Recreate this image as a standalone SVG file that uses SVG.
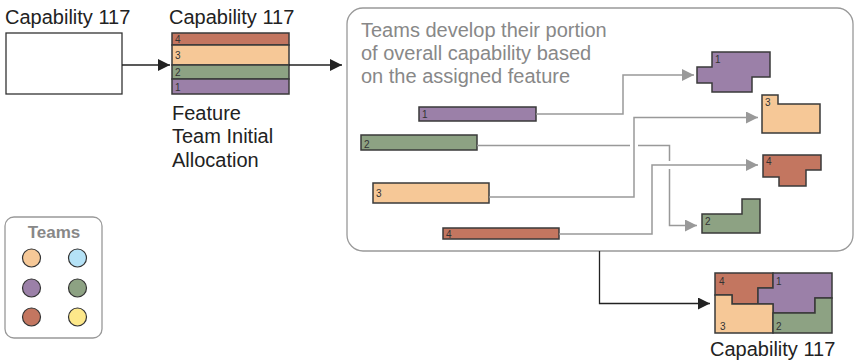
<svg xmlns="http://www.w3.org/2000/svg" width="854" height="360" viewBox="0 0 854 360">
<style>
.t{font-family:"Liberation Sans",Arial,sans-serif;font-size:20px;fill:#222}
.g{font-family:"Liberation Sans",Arial,sans-serif;font-size:20px;fill:#888}
.n{font-family:"Liberation Sans",Arial,sans-serif;font-size:10px;fill:#333}
.pc{stroke:#3a3a3a;stroke-width:1.5}
.p1{fill:#9b80a8}.p2{fill:#8da283}.p3{fill:#f6c897}.p4{fill:#c37660}
.gc{fill:none;stroke:#999;stroke-width:1.5}
.bc{fill:none;stroke:#222;stroke-width:1.3}
.leg{stroke:#333;stroke-width:1.2}
</style>
<defs>
<marker id="ag" markerUnits="userSpaceOnUse" markerWidth="12" markerHeight="12" refX="12" refY="6" orient="auto"><path d="M0,0L12,6L0,12z" fill="#999"/></marker>
<marker id="ab" markerUnits="userSpaceOnUse" markerWidth="12" markerHeight="12" refX="12" refY="6" orient="auto"><path d="M0,0L12,6L0,12z" fill="#222"/></marker>
</defs>

<g id="capability-empty">
<text class="t" x="5" y="23.5">Capability 117</text>
<rect x="6" y="33" width="116" height="61" fill="#fff" stroke="#333" stroke-width="1.3"/>
</g>

<g id="capability-allocation">
<text class="t" x="169" y="23.5">Capability 117</text>
<rect class="pc p4" x="172" y="33" width="117" height="12"/>
<rect class="pc p3" x="172" y="45" width="117" height="20"/>
<rect class="pc p2" x="172" y="65" width="117" height="14"/>
<rect class="pc p1" x="172" y="79" width="117" height="15"/>
<text class="n" x="175" y="43">4</text>
<text class="n" x="175" y="59">3</text>
<text class="n" x="175" y="76">2</text>
<text class="n" x="175" y="91">1</text>
<text class="t" x="172" y="119.5">Feature</text>
<text class="t" x="172" y="143">Team Initial</text>
<text class="t" x="172" y="167">Allocation</text>
</g>

<g id="teams-develop">
<rect x="347" y="8" width="506" height="243" rx="16" fill="none" stroke="#999" stroke-width="1.3"/>
<text class="g" x="361" y="37">Teams develop their portion</text>
<text class="g" x="361" y="60">of overall capability based</text>
<text class="g" x="361" y="83">on the assigned feature</text>
</g>

<g id="bar-1"><rect class="pc p1" x="419" y="107" width="117" height="14"/><text class="n" x="422" y="118">1</text></g>
<g id="bar-2"><rect class="pc p2" x="361" y="135" width="116" height="15"/><text class="n" x="364" y="148">2</text></g>
<g id="bar-3"><rect class="pc p3" x="373" y="183" width="116" height="20"/><text class="n" x="376" y="197">3</text></g>
<g id="bar-4"><rect class="pc p4" x="443" y="228" width="116" height="11"/><text class="n" x="446" y="238">4</text></g>

<g id="piece-1"><polygon class="pc p1" points="712,52 770,52 770,77 752,77 752,92 712,92 712,83 697,83 697,67 712,67"/><text class="n" x="715" y="63">1</text></g>
<g id="piece-3"><polygon class="pc p3" points="762,95 778,95 778,104 820,104 820,133 762,133"/><text class="n" x="765" y="106">3</text></g>
<g id="piece-4"><polygon class="pc p4" points="763,155 821,155 821,170 806,170 806,186 779,186 779,177 763,177"/><text class="n" x="766" y="165">4</text></g>
<g id="piece-2"><polygon class="pc p2" points="702,214 742,214 742,199 760,199 760,233 702,233"/><text class="n" x="705" y="225">2</text></g>

<g id="capability-final">
<polygon class="pc p4" points="715,273 773,273 773,288 758,288 758,304 732,304 732,295 715,295"/>
<polygon class="pc p1" points="773,273 832,273 832,298 815,298 815,313 773,313 773,304 758,304 758,288 773,288"/>
<polygon class="pc p3" points="715,295 732,295 732,304 773,304 773,333 715,333"/>
<polygon class="pc p2" points="773,313 815,313 815,298 832,298 832,333 773,333"/>
<text class="n" x="719" y="285">4</text>
<text class="n" x="776" y="285">1</text>
<text class="n" x="720" y="330">3</text>
<text class="n" x="776" y="330">2</text>
<text class="t" x="710" y="356">Capability 117</text>
</g>

<g id="legend">
<rect x="5" y="217" width="97" height="121" rx="9" fill="#fff" stroke="#999" stroke-width="1.3"/>
<text x="54" y="238" text-anchor="middle" style="font-family:'Liberation Sans',Arial,sans-serif;font-size:17px;font-weight:bold;fill:#888">Teams</text>
<circle class="leg" cx="31.5" cy="258" r="9" fill="#f6c897"/>
<circle class="leg" cx="77.5" cy="258" r="9" fill="#b5e2f6"/>
<circle class="leg" cx="31.5" cy="288" r="9" fill="#9b80a8"/>
<circle class="leg" cx="77.5" cy="288" r="9" fill="#8da283"/>
<circle class="leg" cx="31.5" cy="317" r="9" fill="#c37660"/>
<circle class="leg" cx="77.5" cy="317" r="9" fill="#fde88a"/>
</g>

<g id="connectors">
<path class="bc" d="M122,65H170" marker-end="url(#ab)"/>
<path class="bc" d="M289,65H342" marker-end="url(#ab)"/>
<path class="bc" d="M599.5,251V303.5H710" marker-end="url(#ab)"/>
<path class="gc" d="M536,114H623V75H694" marker-end="url(#ag)"/>
<path class="gc" d="M489,197H634V117.5H758" marker-end="url(#ag)"/>
<path class="gc" d="M559,234H652V165H758" marker-end="url(#ag)"/>
<path class="gc" d="M477,145.5H630M638,145.5H669.5V161M669.5,169V225.5H697" marker-end="url(#ag)"/>
</g>
</svg>
